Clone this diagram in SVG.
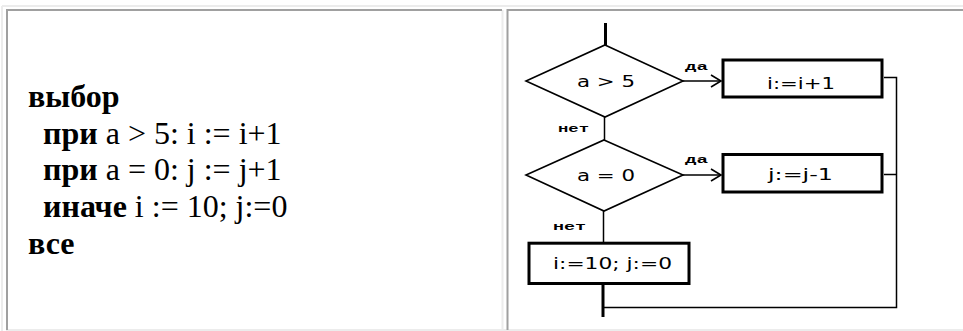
<svg xmlns="http://www.w3.org/2000/svg" width="963" height="331" viewBox="0 0 963 331">
<style>
.lt{stroke:#ececec;stroke-width:2;fill:none}
.dk{stroke:#a0a0a0;stroke-width:2;fill:none}
.code{font-family:"Liberation Serif","Times New Roman",serif;font-size:32px;fill:#000}
.b{font-weight:bold}
.dia{fill:#fff;stroke:#000;stroke-width:1.6}
.box{fill:#fff;stroke:#000;stroke-width:3}
.ft{font-family:"DejaVu Sans","Liberation Sans",sans-serif;font-size:15px;fill:#000}
.lbl{font-family:"Liberation Mono","DejaVu Sans Mono",monospace;font-size:11px;font-weight:bold;fill:#000}
.ln{stroke:#000;stroke-width:1.5;fill:none}
.th{stroke:#000;stroke-width:3;fill:none}
</style>
<defs>
<marker id="arr" markerUnits="userSpaceOnUse" markerWidth="14" markerHeight="16" refX="11" refY="7" orient="auto">
<path d="M1,1 L11,7 L1,13" fill="none" stroke="#000" stroke-width="1.6"/>
</marker>
</defs>
<rect width="963" height="331" fill="#fff"/>
<g id="table">
<path class="lt" d="M2,6 H963 M2,6 V331 M6,330 H963 M502.5,10 V330"/>
<path class="dk" d="M6,10 H502 M7,9 V330 M507,10 H963 M507.5,9 V330"/>
</g>
<g id="code">
<text class="code" x="28" y="107"><tspan class="b">выбор</tspan></text>
<text class="code" x="43" y="143.5"><tspan class="b">при</tspan> a &gt; 5: i := i+1</text>
<text class="code" x="43" y="180"><tspan class="b">при</tspan> a = 0: j := j+1</text>
<text class="code" x="43" y="217"><tspan class="b">иначе</tspan> i := 10; j:=0</text>
<text class="code" x="28" y="253.5"><tspan class="b">все</tspan></text>
</g>
<g id="connectors">
<path class="th" d="M605.5,23 V45"/>
<path class="ln" d="M604.5,117 V140"/>
<path class="ln" d="M683,81 H721" marker-end="url(#arr)"/>
<path class="ln" d="M683,175 H721" marker-end="url(#arr)"/>
<path class="ln" d="M603.5,211 V243"/>
<path class="th" d="M603,285 V317"/>
<path class="ln" d="M884,77.5 H896.5 V307.5 H603 M884,174.5 H896.5"/>
<text class="lbl" x="685" y="70" textLength="23" lengthAdjust="spacingAndGlyphs">да</text>
<text class="lbl" x="685" y="163" textLength="23" lengthAdjust="spacingAndGlyphs">да</text>
<text class="lbl" x="558" y="132" textLength="31" lengthAdjust="spacingAndGlyphs">нет</text>
<text class="lbl" x="553" y="230" textLength="33" lengthAdjust="spacingAndGlyphs">нет</text>
</g>
<g id="cond1">
<polygon class="dia" points="605,45 683,81 605,117 526,81"/>
<text class="ft" x="577" y="87" textLength="58" lengthAdjust="spacingAndGlyphs">a &gt; 5</text>
</g>
<g id="act1">
<rect class="box" x="723" y="60" width="159" height="37"/>
<text class="ft" x="767" y="89" textLength="68" lengthAdjust="spacingAndGlyphs">i:=i+1</text>
</g>
<g id="cond2">
<polygon class="dia" points="604,140 683,175 604,211 526,175"/>
<text class="ft" x="577" y="181" textLength="58" lengthAdjust="spacingAndGlyphs">a = 0</text>
</g>
<g id="act2">
<rect class="box" x="723" y="154.5" width="159" height="37.5"/>
<text class="ft" x="768" y="180" textLength="65" lengthAdjust="spacingAndGlyphs">j:=j-1</text>
</g>
<g id="act3">
<rect class="box" x="529" y="243.2" width="160" height="40.3"/>
<text class="ft" x="553" y="269" textLength="119" lengthAdjust="spacingAndGlyphs">i:=10; j:=0</text>
</g>
</svg>
